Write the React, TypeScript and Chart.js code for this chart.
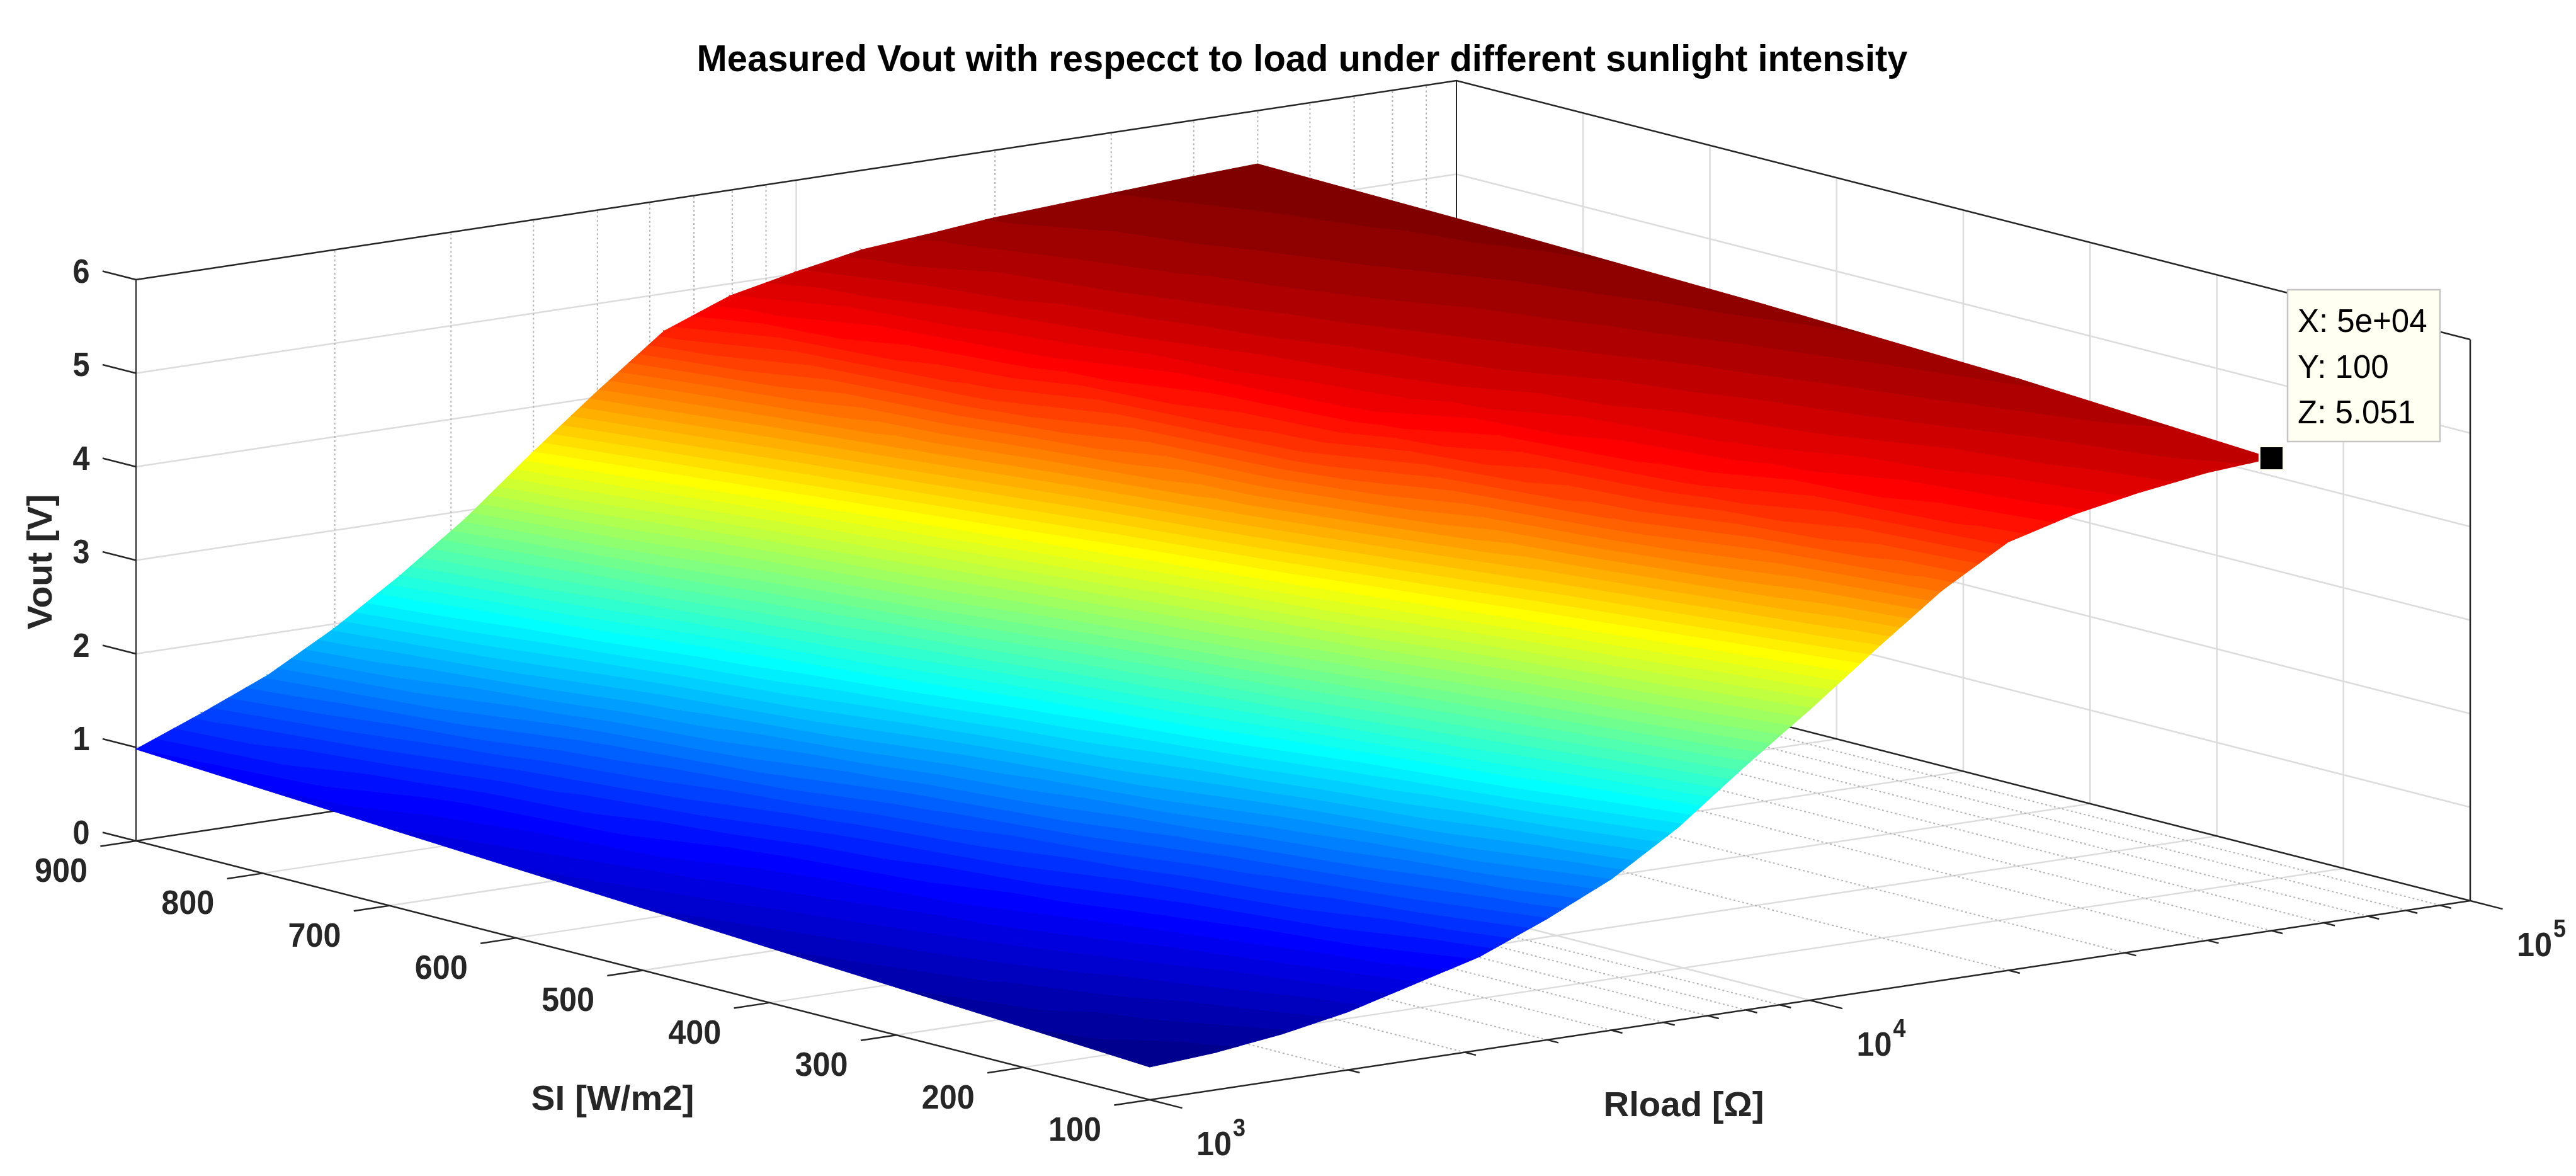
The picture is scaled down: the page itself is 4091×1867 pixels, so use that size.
import React, { useEffect, useRef } from "react";
import { Chart, registerables } from "chart.js";

Chart.register(...registerables);

const W = 4091;
const H = 1867;

const TITLE = "Measured Vout with respecct to load under different sunlight intensity";
const Z_TICKS = [0, 1, 2, 3, 4, 5, 6];
const SI_TICKS = [100, 200, 300, 400, 500, 600, 700, 800, 900];
const R_MAJOR = [1000, 10000, 100000];
const R_MINOR = [2000, 3000, 4000, 5000, 6000, 7000, 8000, 9000, 20000, 30000, 40000, 50000, 60000, 70000, 80000, 90000];

const RLOAD = [1000, 1259, 1585, 1995, 2512, 3162, 3981, 5012, 6310, 7943, 10000, 12589, 15849, 19953, 25119, 31623, 39811, 50000];
const SI_ROWS = [100, 300, 500, 700, 900];
const VOUT_SI100 = [0.35, 0.4, 0.49, 0.62, 0.81, 1.0, 1.29, 1.62, 2.06, 2.6, 3.11, 3.65, 4.17, 4.58, 4.77, 4.9, 5.0, 5.051];
const VOUT_SI300 = [0.51, 0.63, 0.76, 0.905, 1.1, 1.38, 1.73, 2.17, 2.68, 3.21, 3.75, 4.29, 4.66, 4.85, 4.96, 5.05, 5.13, 5.21];
const VOUT_SI500 = [0.665, 0.8, 0.94, 1.16, 1.44, 1.81, 2.26, 2.76, 3.31, 3.9, 4.47, 4.78, 4.93, 5.03, 5.1, 5.17, 5.24, 5.31];
const VOUT_SI700 = [0.82, 0.96, 1.21, 1.49, 1.88, 2.34, 2.85, 3.41, 3.97, 4.51, 4.79, 4.96, 5.08, 5.16, 5.23, 5.28, 5.33, 5.38];
const VOUT_SI900 = [0.98, 1.26, 1.56, 1.95, 2.41, 2.92, 3.51, 4.07, 4.6, 4.87, 5.02, 5.15, 5.21, 5.28, 5.32, 5.36, 5.4, 5.43];
const VOUT_ROWS = [VOUT_SI100, VOUT_SI300, VOUT_SI500, VOUT_SI700, VOUT_SI900];

const TIP_POINT = { r: 50000, si: 100, z: 5.051 };
const TIP_LINES = ["X: 5e+04", "Y: 100", "Z: 5.051"];

// Orthographic view of the box
const ORIGIN = { x: 1826, y: 1746 };
const U_VEC = { x: 2097, y: -316 };
const V_VEC = { x: -1610, y: -411 };
const Z_PX = 148.5;

const uOf = (r: number) => (Math.log10(r) - 3) / 2;
const vOf = (si: number) => (si - 100) / 800;
const proj = (u: number, v: number, z: number) => ({
  x: ORIGIN.x + u * U_VEC.x + v * V_VEC.x,
  y: ORIGIN.y + u * U_VEC.y + v * V_VEC.y - z * Z_PX,
});

const CMIN = Math.min(...VOUT_ROWS.flat());
const CMAX = Math.max(...VOUT_ROWS.flat());
const LEVELS = 64;

const clamp01 = (t: number) => Math.max(0, Math.min(1, t));
function jet(i: number) {
  const x = (i + 1) / LEVELS;
  const c = (k: number) => Math.round(255 * clamp01(1.5 - Math.abs(4 * x - k)));
  return `rgb(${c(3)},${c(2)},${c(1)})`;
}

type V3 = [number, number, number];
function clip(poly: V3[], level: number, keepAbove: boolean): V3[] {
  const out: V3[] = [];
  for (let i = 0; i < poly.length; i++) {
    const a = poly[i];
    const b = poly[(i + 1) % poly.length];
    const ain = keepAbove ? a[2] >= level : a[2] <= level;
    const bin = keepAbove ? b[2] >= level : b[2] <= level;
    if (ain) out.push(a);
    if (ain !== bin) {
      const t = (level - a[2]) / (b[2] - a[2]);
      out.push([a[0] + t * (b[0] - a[0]), a[1] + t * (b[1] - a[1]), level]);
    }
  }
  return out;
}

function line(pts: { x: number; y: number }[], color: string, width: number, dash?: number[]) {
  return {
    data: pts,
    showLine: true,
    borderColor: color,
    borderWidth: width,
    borderDash: dash || [],
    pointRadius: 0,
    fill: false,
    tension: 0,
  };
}

function surfaceDatasets() {
  const out: any[] = [];
  const addTri = (tri: V3[]) => {
    const zs = tri.map((p) => p[2]);
    const lo = Math.floor(((Math.min(...zs) - CMIN) / (CMAX - CMIN)) * LEVELS);
    const hi = Math.floor(((Math.max(...zs) - CMIN) / (CMAX - CMIN)) * LEVELS);
    for (let k = Math.max(0, lo); k <= Math.min(LEVELS - 1, hi); k++) {
      const a = CMIN + (k / LEVELS) * (CMAX - CMIN);
      const b = CMIN + ((k + 1) / LEVELS) * (CMAX - CMIN);
      const poly = clip(clip(tri, a, true), b, false);
      if (poly.length < 3) continue;
      const pts = poly.map((p) => proj(p[0], p[1], p[2]));
      pts.push(pts[0]);
      const col = jet(k);
      out.push({
        data: pts,
        showLine: true,
        borderColor: col,
        backgroundColor: col,
        borderWidth: 1.2,
        pointRadius: 0,
        fill: "shape",
        tension: 0,
      });
    }
  };
  for (let j = 0; j < SI_ROWS.length - 1; j++) {
    for (let i = 0; i < RLOAD.length - 1; i++) {
      const u0 = uOf(RLOAD[i]);
      const u1 = uOf(RLOAD[i + 1]);
      const v0 = vOf(SI_ROWS[j]);
      const v1 = vOf(SI_ROWS[j + 1]);
      const a: V3 = [u0, v0, VOUT_ROWS[j][i]];
      const b: V3 = [u1, v0, VOUT_ROWS[j][i + 1]];
      const c: V3 = [u1, v1, VOUT_ROWS[j + 1][i + 1]];
      const d: V3 = [u0, v1, VOUT_ROWS[j + 1][i]];
      addTri([a, b, c]);
      addTri([a, c, d]);
    }
  }
  return out;
}

const GRID = "#dcdcdc";
const DOT = "#b4b4b4";
const EDGE = "#262626";

function boxDatasets() {
  const ds: any[] = [];
  const zTop = Z_TICKS[Z_TICKS.length - 1];
  // z grid on both walls
  for (const z of Z_TICKS.slice(1, -1)) {
    ds.push(line([proj(0, 1, z), proj(1, 1, z), proj(1, 0, z)], GRID, 2.5));
  }
  // SI grid: right wall + floor
  for (const si of SI_TICKS.slice(1, -1)) {
    const v = vOf(si);
    ds.push(line([proj(0, v, 0), proj(1, v, 0), proj(1, v, zTop)], GRID, 2.5));
  }
  // Rload grid: floor + left wall
  for (const r of R_MINOR) {
    const u = uOf(r);
    ds.push(line([proj(u, 0, 0), proj(u, 1, 0), proj(u, 1, zTop)], DOT, 2, [3, 4]));
  }
  const um = uOf(R_MAJOR[1]);
  ds.push(line([proj(um, 0, 0), proj(um, 1, 0), proj(um, 1, zTop)], GRID, 2.5));
  // box edges
  ds.push(line([proj(1, 1, 0), proj(1, 1, zTop)], EDGE, 2));
  ds.push(line([proj(0, 1, zTop), proj(1, 1, zTop), proj(1, 0, zTop)], EDGE, 2.5));
  ds.push(line([proj(0, 1, 0), proj(1, 1, 0), proj(1, 0, 0)], EDGE, 2.5));
  ds.push(line([proj(0, 1, 0), proj(0, 1, zTop)], EDGE, 2));
  ds.push(line([proj(1, 0, 0), proj(1, 0, zTop)], EDGE, 2.5));
  ds.push(line([proj(0, 1, 0), proj(0, 0, 0), proj(1, 0, 0)], EDGE, 2.5));
  // ticks
  for (const z of Z_TICKS) {
    ds.push(line([proj(0, 1, z), proj(0, 1.033, z)], EDGE, 2.5));
  }
  for (const si of SI_TICKS) {
    const v = vOf(si);
    ds.push(line([proj(0, v, 0), proj(-0.027, v, 0)], EDGE, 2.5));
  }
  for (const r of R_MAJOR) {
    ds.push(line([proj(uOf(r), 0, 0), proj(uOf(r), -0.032, 0)], EDGE, 2.5));
  }
  for (const r of R_MINOR) {
    ds.push(line([proj(uOf(r), 0, 0), proj(uOf(r), -0.011, 0)], EDGE, 2.5));
  }
  return ds;
}

function text(
  ctx: CanvasRenderingContext2D,
  s: string,
  x: number,
  y: number,
  font: string,
  color: string,
  opts: { width?: number; rot?: number; align?: CanvasTextAlign } = {}
) {
  ctx.save();
  ctx.font = font;
  ctx.fillStyle = color;
  ctx.textBaseline = "middle";
  ctx.textAlign = opts.align || "center";
  ctx.translate(x, y);
  if (opts.rot) ctx.rotate(opts.rot);
  if (opts.width) ctx.scale(opts.width / ctx.measureText(s).width, 1);
  ctx.fillText(s, 0, 0);
  ctx.restore();
}

const FONT = '"Liberation Sans", Arial, sans-serif';
const LABEL = "#262626";

const annotations = {
  id: "annotations",
  afterDatasetsDraw(chart: any) {
    const ctx: CanvasRenderingContext2D = chart.ctx;
    const sx = chart.scales.x;
    const sy = chart.scales.y;
    const px = (p: { x: number; y: number }) => ({ x: sx.getPixelForValue(p.x), y: sy.getPixelForValue(p.y) });

    text(ctx, TITLE, 2068, 96, `bold 60px ${FONT}`, "#000", { width: 1923 });

    for (const z of Z_TICKS) {
      const p = px(proj(0, 1, z));
      text(ctx, String(z), p.x - 87, p.y - 10, `bold 54px ${FONT}`, LABEL, { width: 27 });
    }
    for (const si of SI_TICKS) {
      const p = px(proj(0, vOf(si), 0));
      text(ctx, String(si), p.x - 119, p.y + 50, `bold 54px ${FONT}`, LABEL, { width: 84 });
    }
    for (const r of R_MAJOR) {
      const p = px(proj(uOf(r), 0, 0));
      text(ctx, "10", p.x + 102, p.y + 73, `bold 54px ${FONT}`, LABEL, { width: 56 });
      text(ctx, String(Math.round(Math.log10(r))), p.x + 142, p.y + 47, `bold 40px ${FONT}`, LABEL, { width: 20 });
    }
    text(ctx, "Vout [V]", 67, 892, `bold 56px ${FONT}`, LABEL, { rot: -Math.PI / 2, width: 215 });
    text(ctx, "SI [W/m2]", 973, 1747, `bold 56px ${FONT}`, LABEL, { width: 259 });
    text(ctx, "Rload [Ω]", 2674, 1757, `bold 56px ${FONT}`, LABEL, { width: 255 });

    // data tip
    ctx.save();
    ctx.fillStyle = "#fffff2";
    ctx.strokeStyle = "#c4c4c4";
    ctx.lineWidth = 2.5;
    ctx.fillRect(3633, 460, 242, 241);
    ctx.strokeRect(3633, 460, 242, 241);
    ctx.restore();
    TIP_LINES.forEach((s, i) => {
      text(ctx, s, 3649, 513 + i * 72.5, `51px ${FONT}`, "#000", { align: "left" });
    });
  },
};

export default function App() {
  const ref = useRef<HTMLCanvasElement | null>(null);
  useEffect(() => {
    if (!ref.current) return;
    const marker = {
      data: [proj(uOf(TIP_POINT.r), vOf(TIP_POINT.si), TIP_POINT.z)],
      pointStyle: "rect",
      pointRadius: 27,
      backgroundColor: "#000",
      borderColor: "#fffff2",
      borderWidth: 3,
      showLine: false,
    };
    const backToFront = [...boxDatasets(), ...surfaceDatasets(), marker];
    const chart = new Chart(ref.current, {
      type: "scatter",
      data: { datasets: backToFront.reverse() as any },
      options: {
        animation: false,
        responsive: false,
        devicePixelRatio: 1,
        events: [],
        layout: { padding: 0, autoPadding: false },
        plugins: { legend: { display: false }, tooltip: { enabled: false }, title: { display: false } },
        scales: {
          x: { type: "linear", min: 0, max: W, display: false },
          y: { type: "linear", min: 0, max: H, reverse: true, display: false },
        },
      },
      plugins: [annotations],
    } as any);
    return () => chart.destroy();
  }, []);
  return (
    <div style={{ position: "absolute", left: 0, top: 0, width: W, height: H, background: "#fff" }}>
      <canvas ref={ref} width={W} height={H} style={{ display: "block", width: W, height: H }} />
    </div>
  );
}
